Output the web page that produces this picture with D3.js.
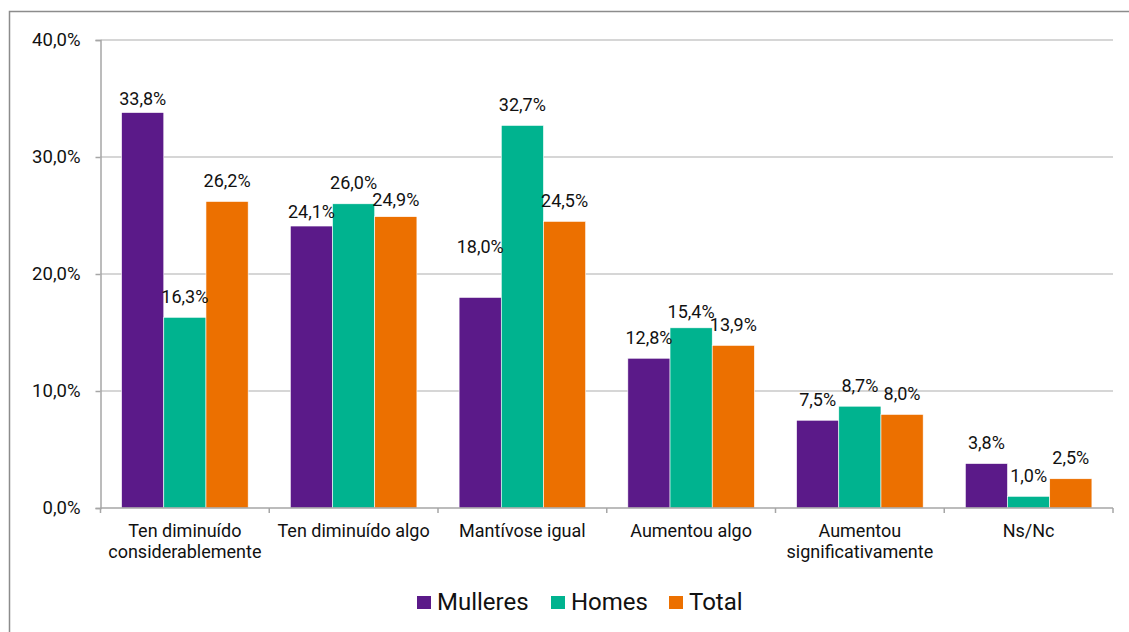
<!DOCTYPE html>
<html><head><meta charset="utf-8">
<script src="https://cdn.jsdelivr.net/npm/d3@7"></script>
<style>
html,body{margin:0;padding:0;background:#fff;}
svg{display:block;font-family:Roboto,"Noto Sans",sans-serif;}
</style></head>
<body>
<svg id="chart" width="1129" height="632"></svg>
<script>
const categories = [["Ten diminuído","considerablemente"],["Ten diminuído algo"],["Mantívose igual"],["Aumentou algo"],["Aumentou","significativamente"],["Ns/Nc"]];
const seriesNames = ["Mulleres","Homes","Total"];
const mulleres = [33.8, 24.1, 18.0, 12.8, 7.5, 3.8];
const homes    = [16.3, 26.0, 32.7, 15.4, 8.7, 1.0];
const total    = [26.2, 24.9, 24.5, 13.9, 8.0, 2.5];
const yTicks = [0, 10, 20, 30, 40];

const colors = ["#5b1a89", "#00b38f", "#ec7000"];
// manual label lift (distance of label centre above bar top), layout only
const labelLift = {"0-0":14, "1-0":14, "2-0":51, "3-1":16, "1-2":17};
const defaultLift = 21;

const svg = d3.select("#chart");
const m = {left:100.5, right:1113, top:40, bottom:508};

// outer frame
svg.append("rect").attr("x",9.5).attr("y",11.5).attr("width",1140).attr("height",640)
  .attr("fill","none").attr("stroke","#8c8c8c").attr("stroke-width",1.5);

const x = d3.scaleBand().domain(d3.range(categories.length)).range([m.left, m.right]).paddingInner(0).paddingOuter(0);
const groupFrac = 0.75;
const xs = d3.scaleBand().domain(d3.range(seriesNames.length)).range([0, x.bandwidth()*groupFrac]);
const y = d3.scaleLinear().domain([0,40]).range([m.bottom, m.top]);

const fmt = v => d3.format(".1f")(v).replace(".", ",") + "%";

// gridlines
svg.append("g").selectAll("line").data(yTicks.filter(d=>d>0)).join("line")
  .attr("x1", m.left).attr("x2", m.right).attr("y1", d=>y(d)).attr("y2", d=>y(d))
  .attr("stroke","#c8c8c8").attr("stroke-width",1.5);

// y axis
const yAxis = d3.axisLeft(y).tickValues(yTicks).tickSize(5).tickPadding(15).tickFormat(fmt);
const gy = svg.append("g").attr("transform",`translate(${m.left},0)`).call(yAxis);
gy.select(".domain").attr("stroke","#a6a6a6").attr("stroke-width",1.5);
gy.selectAll(".tick line").attr("stroke","#a6a6a6").attr("stroke-width",1.5);
gy.selectAll(".tick text").attr("font-size",18.5).attr("fill","#111").attr("font-family","Roboto");

const seriesData = [mulleres, homes, total];

// bars
const groups = svg.append("g").selectAll("g").data(categories.map((c,i)=>i)).join("g")
  .attr("transform", i => `translate(${x(i) + x.bandwidth()*(1-groupFrac)/2},0)`);
groups.selectAll("rect").data(i => seriesData.map((s,k)=>({i,k,v:s[i]}))).join("rect")
  .attr("x", d=>xs(d.k)).attr("width", xs.bandwidth())
  .attr("y", d=>y(d.v)).attr("height", d=>y(0)-y(d.v))
  .attr("fill", d=>colors[d.k]).attr("stroke","#fff").attr("stroke-width",0.6);

// x axis
const xAxisG = svg.append("g");
xAxisG.append("line").attr("x1",m.left).attr("x2",m.right).attr("y1",y(0)).attr("y2",y(0))
  .attr("stroke","#a6a6a6").attr("stroke-width",1.5);
const bounds = d3.range(categories.length+1).map(i => i<categories.length ? x(i) : x(i-1)+x.bandwidth());
xAxisG.selectAll("line.tk").data(bounds).join("line").attr("class","tk")
  .attr("x1",d=>d).attr("x2",d=>d).attr("y1",y(0)).attr("y2",y(0)+5)
  .attr("stroke","#a6a6a6").attr("stroke-width",1.5);
const catText = xAxisG.selectAll("text").data(categories).join("text")
  .attr("x",(d,i)=>x(i)+x.bandwidth()/2).attr("y",537)
  .attr("text-anchor","middle").attr("font-size",18).attr("fill","#111");
catText.each(function(d){
  const t = d3.select(this);
  d.forEach((line,j)=>t.append("tspan").attr("x",t.attr("x")).attr("dy", j===0?0:21).text(line));
});

// data labels
groups.selectAll("text").data(i => seriesData.map((s,k)=>({i,k,v:s[i]}))).join("text")
  .attr("x", d=>xs(d.k)+xs.bandwidth()/2)
  .attr("y", d=> y(d.v) - (labelLift[d.i+"-"+d.k] ?? defaultLift))
  .attr("dy","0.35em")
  .attr("text-anchor","middle").attr("font-size",18).attr("fill","#111")
  .text(d=>fmt(d.v));

// legend
const legendX = [417, 551, 669];
const lg = svg.append("g");
seriesNames.forEach((n,k)=>{
  lg.append("rect").attr("x",legendX[k]).attr("y",596).attr("width",14).attr("height",13).attr("fill",colors[k]);
  lg.append("text").attr("x",legendX[k]+20).attr("y",610).attr("font-size",24).attr("fill","#111").text(n);
});
</script>
</body></html>
